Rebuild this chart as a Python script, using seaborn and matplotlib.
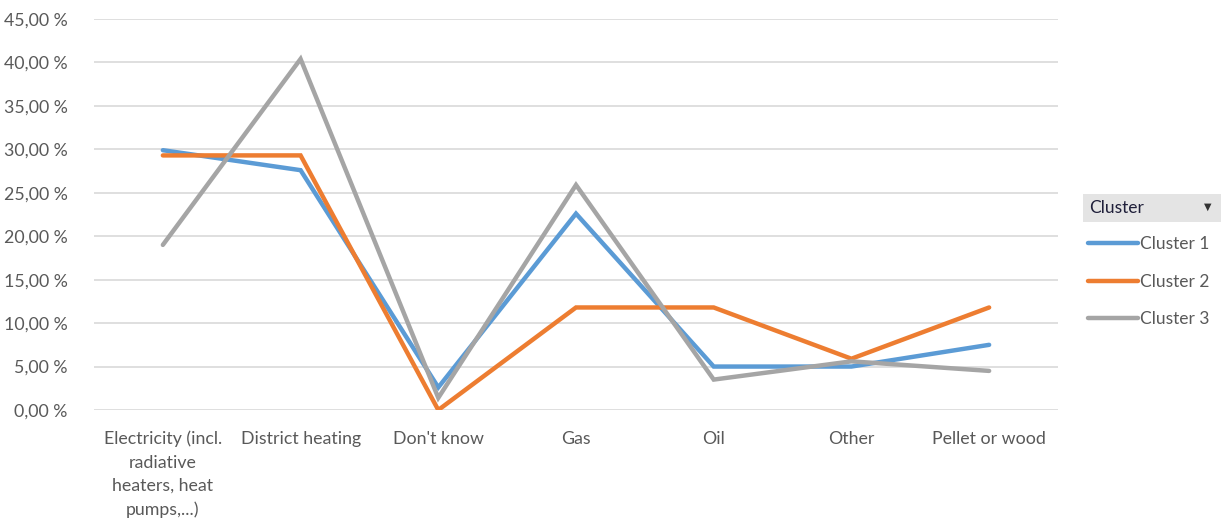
import matplotlib
matplotlib.use("Agg")
import matplotlib.pyplot as plt
import seaborn as sns
import pandas as pd
from matplotlib.patches import Rectangle

categories = ["Electricity (incl.\nradiative\nheaters, heat\npumps,...)", "District heating",
              "Don't know", "Gas", "Oil", "Other", "Pellet or wood"]
cluster1 = [29.9, 27.6, 2.6, 22.6, 5.0, 5.0, 7.5]
cluster2 = [29.3, 29.3, 0.0, 11.8, 11.8, 5.9, 11.8]
cluster3 = [19.0, 40.4, 1.4, 25.9, 3.5, 5.6, 4.5]
series_names = ["Cluster 1", "Cluster 2", "Cluster 3"]
y_ticks = [0, 5, 10, 15, 20, 25, 30, 35, 40, 45]
y_tick_labels = ["0,00 %", "5,00 %", "10,00 %", "15,00 %", "20,00 %", "25,00 %",
                 "30,00 %", "35,00 %", "40,00 %", "45,00 %"]
colors = ["#5B9BD5", "#ED7D31", "#A5A5A5"]

rows = []
for name, vals in zip(series_names, [cluster1, cluster2, cluster3]):
    for i, (c, v) in enumerate(zip(categories, vals)):
        rows.append({"pos": i, "Category": c, "Value": v, "Cluster": name})
df = pd.DataFrame(rows)

sns.set_theme(style="white")
plt.rcParams['font.family'] = ['Lato', 'DejaVu Sans']

fig = plt.figure(figsize=(12.21, 5.2), dpi=100)
ax = fig.add_axes([94/1221, 1-410/520, (1058-94)/1221, (410-19)/520])

sns.lineplot(data=df, x="pos", y="Value", hue="Cluster", palette=colors,
             linewidth=3.2, ax=ax, legend=False, solid_capstyle="round",
             solid_joinstyle="miter")

ax.set_xlim(-0.5, len(categories) - 0.5)
ax.set_ylim(0, 45)
ax.set_yticks(y_ticks)
ax.set_yticklabels(y_tick_labels)
ax.set_xticks(range(len(categories)))
ax.set_xticklabels(categories, linespacing=1.55, va="top")
ax.tick_params(axis="both", length=0, labelsize=12.8, colors="#595959")
ax.tick_params(axis="y", pad=19)
ax.tick_params(axis="x", pad=15)
ax.set_xlabel("")
ax.set_ylabel("")
for s in ax.spines.values():
    s.set_visible(False)
ax.yaxis.grid(True, color="#d9d9d9", linewidth=1.2)
ax.set_axisbelow(True)

# legend header
fig.patches.append(Rectangle((1083/1221, 1-222/520), (1221-1083)/1221, 28/520,
                             transform=fig.transFigure, facecolor="#e4e4e4",
                             edgecolor="none", zorder=0))
fig.text(1089/1221, 1-208/520, "Cluster", fontsize=12.5, color="#1f1f3a", va="center", ha="left")
fig.text(1208/1221, 1-207/520, "▼", fontsize=7, color="#333333", va="center", ha="center",
         family="DejaVu Sans")

handles = [plt.Line2D([], [], color=c, linewidth=3.2) for c in colors]
fig.legend(handles, series_names, loc="upper left",
           bbox_to_anchor=(1081/1221, 1-229/520), frameon=False,
           fontsize=12.5, handlelength=2.9, handletextpad=0.1,
           labelspacing=1.25, labelcolor="#595959", borderaxespad=0)

fig.savefig("out.png", dpi=100)
